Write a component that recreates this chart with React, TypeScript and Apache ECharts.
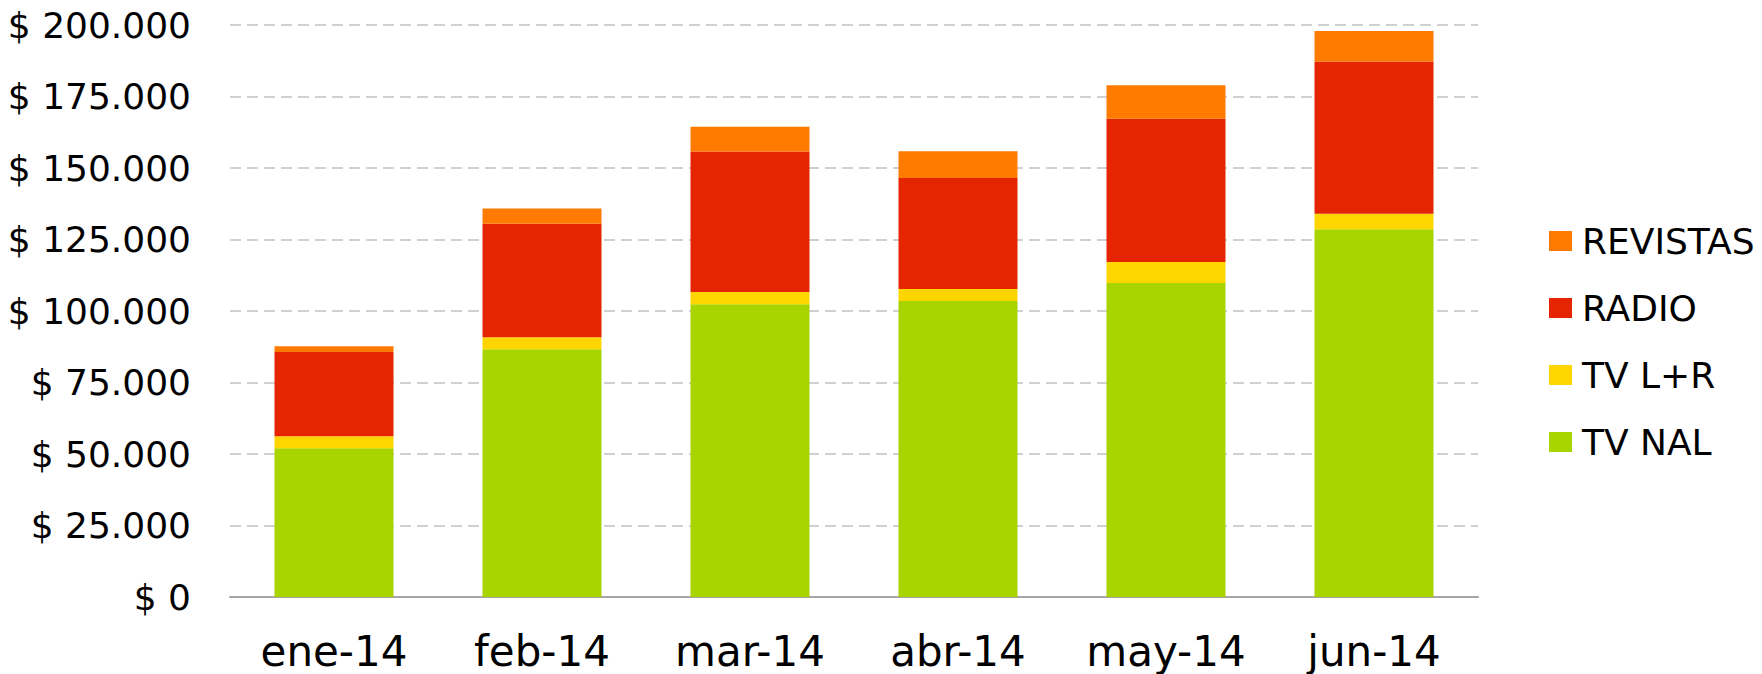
import React, { useEffect, useRef } from "react";
import * as echarts from "echarts";

const categories = ["ene-14", "feb-14", "mar-14", "abr-14", "may-14", "jun-14"];
const tvNal = [52000, 86600, 102400, 103500, 109800, 128600];
const tvLR = [4200, 4200, 4200, 4200, 7300, 5400];
const radio = [29500, 39700, 49200, 38800, 50100, 53200];
const revistas = [2000, 5300, 8600, 9400, 11700, 10700];
const legendOrder = ["REVISTAS", "RADIO", "TV L+R", "TV NAL"];

const FONT = "'DejaVu Sans', Verdana, sans-serif";

function fmt(v: number): string {
  return "$ " + String(v).replace(/\B(?=(\d{3})+(?!\d))/g, ".");
}

export default function App() {
  const ref = useRef<HTMLDivElement>(null);
  useEffect(() => {
    document.body.style.margin = "0";
    if (!ref.current) return;
    const chart = echarts.init(ref.current, undefined, { renderer: "svg" });
    const mk = (name: string, data: number[], color: string) => ({
      name,
      type: "bar",
      stack: "total",
      data,
      barWidth: 119,
      itemStyle: { color },
    });
    chart.setOption({
      animation: false,
      backgroundColor: "#ffffff",
      textStyle: { fontFamily: FONT },
      grid: { left: 230, right: 284, top: 25, bottom: 77, containLabel: false },
      legend: {
        orient: "vertical",
        left: 1544,
        top: 218,
        icon: "rect",
        itemWidth: 23,
        itemHeight: 20,
        itemGap: 31,
        data: legendOrder,
        textStyle: {
          fontFamily: FONT,
          fontSize: 36,
          color: "#000",
          lineHeight: 36,
          padding: [0, 0, 0, 5],
        },
      },
      xAxis: {
        type: "category",
        data: categories,
        axisTick: { show: false },
        axisLine: { lineStyle: { color: "#A6A6A6", width: 2 } },
        axisLabel: { fontFamily: FONT, fontSize: 42, color: "#000", margin: 33 },
      },
      yAxis: {
        type: "value",
        min: 0,
        max: 200000,
        interval: 25000,
        axisLine: { show: false },
        axisTick: { show: false },
        axisLabel: {
          fontFamily: FONT,
          fontSize: 36,
          color: "#000",
          margin: 39,
          formatter: (v: number) => fmt(v),
        },
        splitLine: { lineStyle: { color: "#D0D0D0", width: 2, type: [11, 6] } },
      },
      series: [
        mk("TV NAL", tvNal, "#A8D400"),
        mk("TV L+R", tvLR, "#FFD500"),
        mk("RADIO", radio, "#E52502"),
        mk("REVISTAS", revistas, "#FF7B00"),
      ],
    });
    return () => chart.dispose();
  }, []);
  return <div ref={ref} style={{ width: 1762, height: 674 }} />;
}
